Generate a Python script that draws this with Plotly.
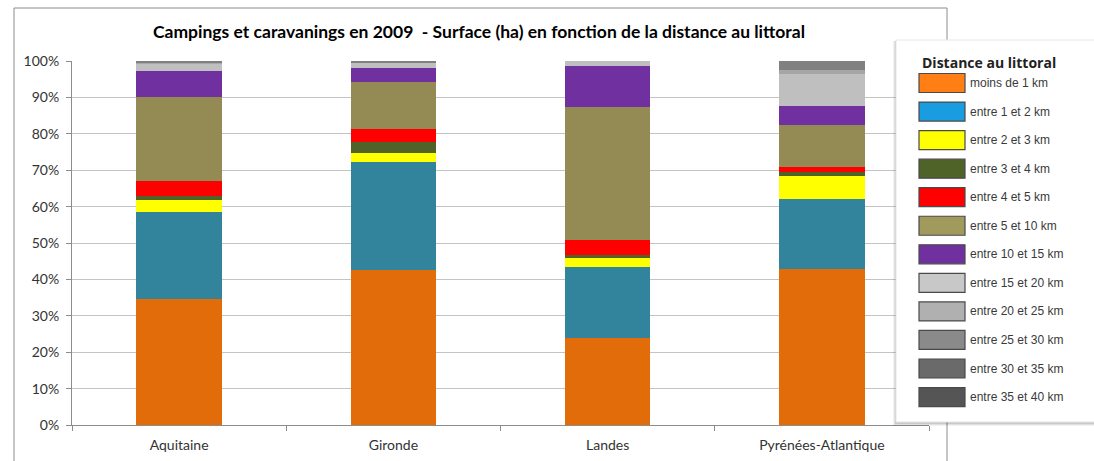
import plotly.graph_objects as go

categories = ["Aquitaine", "Gironde", "Landes", "Pyrénées-Atlantique"]

series_names = ["moins de 1 km", "entre 1 et 2 km", "entre 2 et 3 km", "entre 3 et 4 km",
                "entre 4 et 5 km", "entre 5 et 10 km", "entre 10 et 15 km", "entre 15 et 20 km",
                "entre 20 et 25 km", "entre 25 et 30 km", "entre 30 et 35 km", "entre 35 et 40 km"]

moins_1 = [34.5, 42.7, 23.9, 42.9]
e1_2 = [24.1, 29.6, 19.6, 19.2]
e2_3 = [3.2, 2.5, 2.6, 6.3]
e3_4 = [1.2, 2.9, 0.5, 1.2]
e4_5 = [4.0, 3.6, 4.2, 1.4]
e5_10 = [23.1, 12.8, 36.7, 11.4]
e10_15 = [7.2, 3.9, 11.2, 5.3]
e15_20 = [2.1, 1.5, 1.3, 8.7]
e20_25 = [0.3, 0.2, 0.0, 1.1]
e25_30 = [0.3, 0.3, 0.0, 2.5]
e30_35 = [0.0, 0.0, 0.0, 0.0]
e35_40 = [0.0, 0.0, 0.0, 0.0]

series_values = [moins_1, e1_2, e2_3, e3_4, e4_5, e5_10, e10_15, e15_20, e20_25, e25_30, e30_35, e35_40]

bar_colors = ["#E36C0A", "#31849B", "#FFFF00", "#4F6228", "#FF0000", "#948A54",
              "#7030A0", "#BFBFBF", "#A6A6A6", "#808080", "#595959", "#404040"]
legend_colors = ["#FF7F14", "#1A9CE0", "#FFFF00", "#4F6228", "#FF0000", "#A09A5C",
                 "#7030A0", "#C8C8C8", "#B0B0B0", "#8A8A8A", "#6A6A6A", "#555555"]

title_text = "Campings et caravanings en 2009  - Surface (ha) en fonction de la distance au littoral"
legend_title = "Distance au littoral"

W, H = 1094, 461
L, R, T, B = 72, 929, 61, 425

fig = go.Figure()
for name, vals, col in zip(series_names, series_values, bar_colors):
    fig.add_trace(go.Bar(x=categories, y=vals, name=name, marker=dict(color=col, line=dict(width=0)),
                         width=0.4, showlegend=False))

def px(x):
    return (x - L) / (R - L)

def py(y):
    return (B - y) / (B - T)

shapes = []
annotations = []
# outer chart border
shapes.append(dict(type="rect", xref="paper", yref="paper", x0=px(14), x1=px(947), y0=py(470), y1=py(8),
                   line=dict(color="#8c8c8c", width=1), fillcolor="rgba(0,0,0,0)", layer="below"))

# legend box with shadow
for i, op in enumerate([0.05, 0.07, 0.1]):
    d = 3 - i
    shapes.append(dict(type="rect", xref="paper", yref="paper", x0=px(896 - d), x1=px(1110),
                       y0=py(422 + d + 1), y1=py(40 + 1), line=dict(width=0),
                       fillcolor=f"rgba(0,0,0,{op})", layer="above"))
shapes.append(dict(type="rect", xref="paper", yref="paper", x0=px(896), x1=px(1110), y0=py(422), y1=py(40),
                   line=dict(color="#e6e6e6", width=1), fillcolor="white", layer="above"))

row0 = 83
step = 28.55
for i, (name, col) in enumerate(zip(series_names, legend_colors)):
    yc = row0 + i * step
    shapes.append(dict(type="rect", xref="paper", yref="paper", x0=px(919), x1=px(965),
                       y0=py(yc + 9.5), y1=py(yc - 9.5), fillcolor=col,
                       line=dict(color="#4a4a4a", width=1.2), layer="above"))
    annotations.append(dict(xref="paper", yref="paper", x=px(968), y=py(yc), text=name, showarrow=False,
                            xanchor="left", yanchor="middle",
                            font=dict(family="Liberation Sans, Arial", size=12, color="#3a3a3a")))
annotations.append(dict(xref="paper", yref="paper", x=px(920), y=py(62), text="<b>" + legend_title + "</b>",
                        showarrow=False, xanchor="left", yanchor="middle",
                        font=dict(family="Open Sans, Arial", size=14, color="#222222")))

annotations.append(dict(xref="paper", yref="paper", x=px(479), y=py(31), text="<b>" + title_text + "</b>",
                        showarrow=False, xanchor="center", yanchor="middle",
                        font=dict(family="Lato, Calibri, sans-serif", size=17.5, color="#000000")))

fig.update_layout(
    width=W, height=H,
    margin=dict(l=L, r=W - R, t=T, b=H - B, autoexpand=False),
    paper_bgcolor="white", plot_bgcolor="white",
    barmode="stack", bargap=0.6,
    shapes=shapes, annotations=annotations,
    font=dict(family="Lato, Calibri, sans-serif", size=14, color="#333333"),
)
fig.update_yaxes(range=[0, 100], dtick=10, ticksuffix="%", showgrid=True, gridcolor="#c4c4c4", gridwidth=1,
                 showline=True, linecolor="#8c8c8c", linewidth=1, ticks="outside", ticklen=5,
                 tickcolor="#8c8c8c", zeroline=False, tickfont=dict(size=14, color="#333333"),
                 ticklabelstandoff=4)
fig.update_xaxes(showline=True, linecolor="#8c8c8c", linewidth=1, ticks="outside", ticklen=5,
                 tickcolor="#8c8c8c", tickson="boundaries", showgrid=False,
                 tickfont=dict(size=14, color="#333333"), ticklabelstandoff=7)

fig.write_html("out.html", config={"displayModeBar": False},
               post_script="document.body.style.margin='0px';document.body.style.overflow='hidden';")
